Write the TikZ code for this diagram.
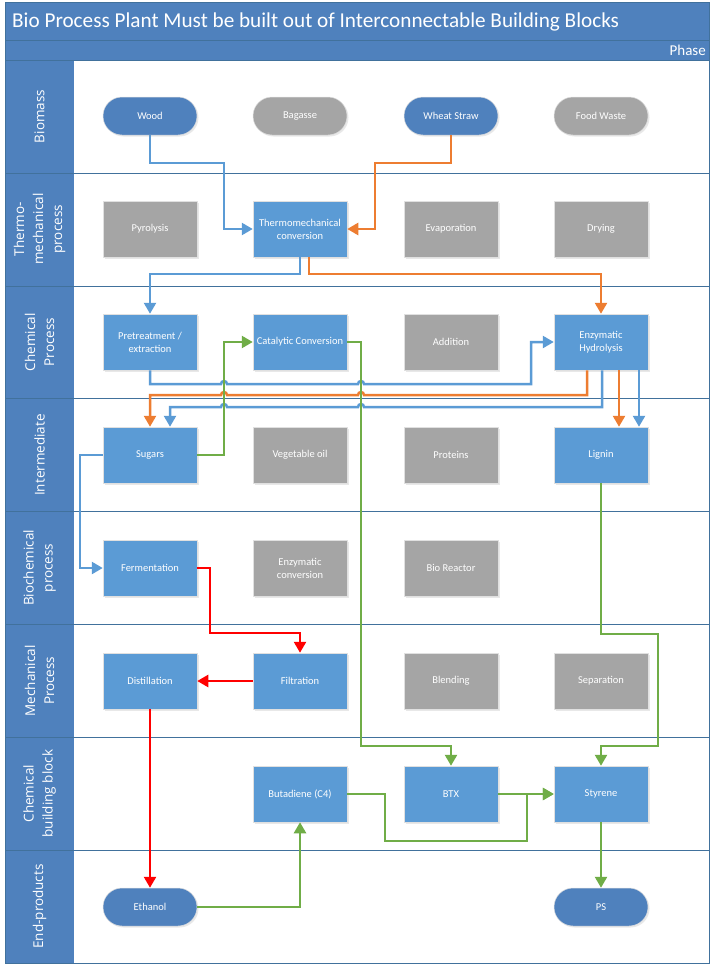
\documentclass[tikz,border=0pt]{standalone}
\usepackage{fontspec}
\setmainfont{Carlito}
\newfontfamily\lanefont{Open Sans}
\usetikzlibrary{arrows.meta, shadows}
\definecolor{hdrblue}{RGB}{79,129,189}
\definecolor{lineblue}{RGB}{65,113,156}
\definecolor{boxblue}{RGB}{91,155,213}
\definecolor{endblue}{RGB}{79,129,189}
\definecolor{boxgray}{RGB}{165,165,165}
\definecolor{cblue}{RGB}{91,155,213}
\definecolor{corange}{RGB}{237,125,49}
\definecolor{cgreen}{RGB}{112,173,71}
\definecolor{cred}{RGB}{255,0,0}
\tikzset{
	blk/.style = {shape = rectangle, minimum width = 94pt, minimum height = 56pt, inner sep = 2pt, text = white, align = center, font = \fontsize{10.5}{13}\selectfont, draw = black!12, line width = 0.5pt, drop shadow = {opacity = 0.18, shadow xshift = 1.5pt, shadow yshift = -1.5pt}},
	live/.style = {blk, fill = boxblue},
	idle/.style = {blk, fill = boxgray},
	liveend/.style = {blk, fill = endblue, minimum height = 38pt, rounded corners = 19pt},
	idleend/.style = {blk, fill = boxgray, minimum height = 38pt, rounded corners = 19pt},
	flow/.style = {line width = 2.5pt, -{Triangle[length = 11pt, width = 12pt]}}
}
\begin{document}
\begin{tikzpicture}[x = 1pt, y = -1pt]
	\useasboundingbox (0,0) rectangle (715,972);
	\fill[hdrblue] (5,2) rectangle (709,60);
	\draw[lineblue] (5,40) -- (709,40);
	\node[anchor = base west, text = white, font = \fontsize{21.2}{25}\selectfont, inner sep = 0] (title) at (12,27.5) {Bio Process Plant Must be built out of Interconnectable Building Blocks};
	\node[anchor = base east, text = white, font = \fontsize{15}{18}\selectfont, inner sep = 0] (phase) at (706,55) {Phase};
	\foreach \i/\lab in {0/Biomass, 1/{Thermo-\\mechanical\\process}, 2/{Chemical\\Process}, 3/Intermediate, 4/{Biochemical\\process}, 5/{Mechanical\\Process}, 6/{Chemical\\building block}, 7/End-products}{
		\fill[hdrblue] (5,60+112.875*\i) rectangle (74,172.875+112.875*\i);
		\fill[white] (74,60+112.875*\i) rectangle (709,172.875+112.875*\i);
		\draw[lineblue] (5,60+112.875*\i) rectangle (709,172.875+112.875*\i);
		\node[rotate = 90, align = center, text = white, font = \lanefont\fontsize{13.5}{19}\selectfont] (lane\i) at (39.5,116.4+112.875*\i) {\lab};}
	\draw[lineblue] (5,2) rectangle (709,963);
	\foreach \nm/\x/\y/\st/\txt in {wood/150/116/liveend/Wood, bagasse/300/116/idleend/Bagasse, wheat/451/116/liveend/Wheat Straw, food/601/116/idleend/Food Waste,
		pyro/150/229/idle/Pyrolysis, thermo/300/229/live/{Thermomechanical\\conversion}, evap/451/229/idle/Evaporation, dry/601/229/idle/Drying,
		pre/150/342/live/{Pretreatment /\\extraction}, cat/300/342/live/Catalytic Conversion, addn/451/342/idle/Addition, enz/601/342/live/{Enzymatic\\Hydrolysis},
		sugars/150/455/live/Sugars, vegoil/300/455/idle/Vegetable oil, prot/451/455/idle/Proteins, lignin/601/455/live/Lignin,
		ferm/150/568/live/Fermentation, enzconv/300/568/idle/{Enzymatic\\conversion}, bioreact/451/568/idle/Bio Reactor,
		dist/150/681/live/Distillation, filt/300/681/live/Filtration, blend/451/681/idle/Blending, separ/601/681/idle/Separation,
		buta/300/794/live/Butadiene (C4), btx/451/794/live/BTX, sty/601/794/live/Styrene,
		eth/150/907/liveend/Ethanol, ps/601/907/liveend/PS}{
		\node[\st] (\nm) at (\x,\y) {\txt};}
	\draw[flow, cblue] (wood.south) |- (224,163) |- (thermo.west);
	\draw[flow, corange] (wheat.south) |- (375,163) |- (thermo.east);
	\draw[flow, cblue] (thermo.south) |- (150,274) -- (pre.north);
	\draw[flow, corange] ([xshift = 9pt]thermo.south) |- (601,274) -- (enz.north);
	\draw[flow, cblue] (pre.south) |- (221,384) arc[start angle = 180, end angle = 0, radius = 3pt] -- (358,384) arc[start angle = 180, end angle = 0, radius = 3pt] -- (531,384) |- (enz.west);
	\draw[flow, corange] ([xshift = -14pt]enz.south) |- (364,395) arc[start angle = 0, end angle = 180, radius = 3pt] -- (227,395) arc[start angle = 0, end angle = 180, radius = 3pt] -| (sugars.north);
	\draw[flow, cblue] ([xshift = 1pt]enz.south) |- (364,407) arc[start angle = 0, end angle = 180, radius = 3pt] -- (227,407) arc[start angle = 0, end angle = 180, radius = 3pt] -| ([xshift = 20pt]sugars.north);
	\draw[flow, corange] ([xshift = 18pt]enz.south) -- ([xshift = 18pt]lignin.north);
	\draw[flow, cblue] ([xshift = 38pt]enz.south) -- ([xshift = 38pt]lignin.north);
	\draw[flow, cblue] (sugars.west) -| (80,568) -- (ferm.west);
	\draw[flow, cgreen] (sugars.east) -| (224,342) -- (cat.west);
	\draw[flow, cgreen] (cat.east) -| (361,746) -| (btx.north);
	\draw[flow, cred] (ferm.east) -| (210,633) -| (filt.north);
	\draw[flow, cred] (filt.west) -- (dist.east);
	\draw[flow, cred] (dist.south) -- (eth.north);
	\draw[flow, cgreen] (eth.east) -| (buta.south);
	\draw[flow, cgreen] (buta.east) -| (385,841) -| (527,794) -- (sty.west);
	\draw[flow, cgreen] (btx.east) -- (sty.west);
	\draw[flow, cgreen] (lignin.south) |- (658,634) -- (658,746) -| (sty.north);
	\draw[flow, cgreen] (sty.south) -- (ps.north);
\end{tikzpicture}
\end{document}
